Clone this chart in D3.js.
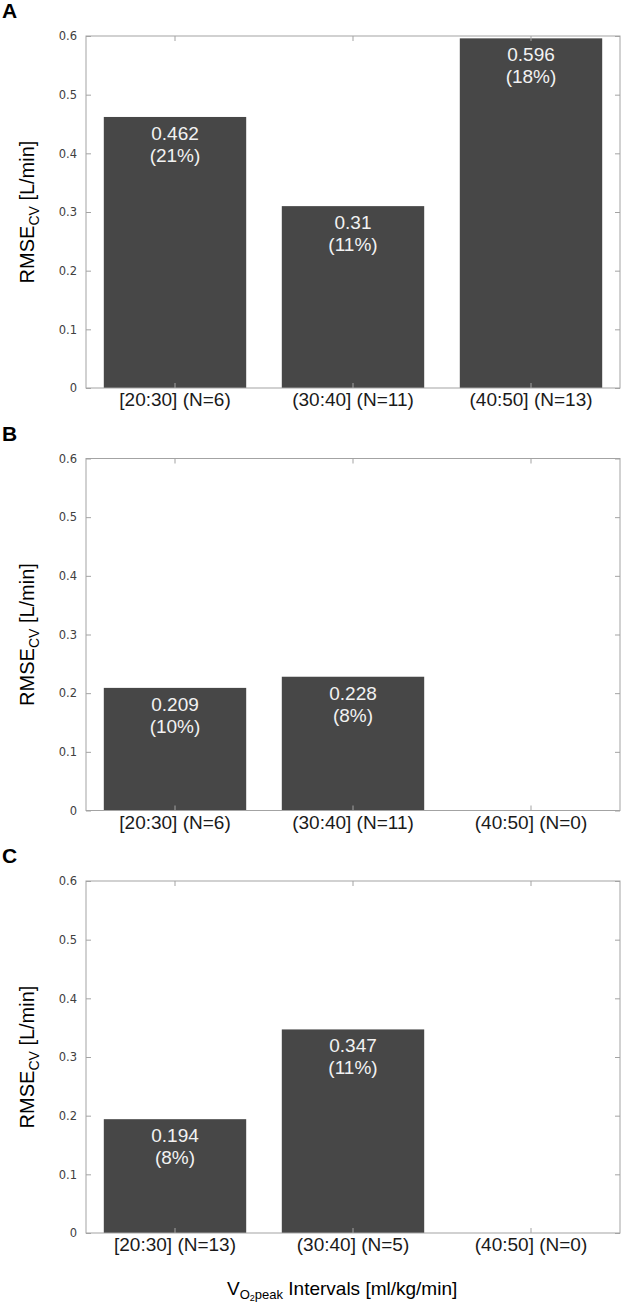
<!DOCTYPE html>
<html>
<head>
<meta charset="utf-8">
<script src="https://cdn.jsdelivr.net/npm/d3@7"></script>
<style>
  html, body { margin: 0; padding: 0; background: #ffffff; }
  svg { display: block; }
</style>
</head>
<body>
<svg id="chart" width="622" height="1305"></svg>
<script>
// ---- data ----
const categoriesA = ["[20:30] (N=6)", "(30:40] (N=11)", "(40:50] (N=13)"];
const valuesA = [0.462, 0.31, 0.596];
const percentA = ["21%", "11%", "18%"];

const categoriesB = ["[20:30] (N=6)", "(30:40] (N=11)", "(40:50] (N=0)"];
const valuesB = [0.209, 0.228, null];
const percentB = ["10%", "8%", null];

const categoriesC = ["[20:30] (N=13)", "(30:40] (N=5)", "(40:50] (N=0)"];
const valuesC = [0.194, 0.347, null];
const percentC = ["8%", "11%", null];

const panelLetters = ["A", "B", "C"];
const yTicks = [0, 0.1, 0.2, 0.3, 0.4, 0.5, 0.6];
const yTickLabels = ["0", "0.1", "0.2", "0.3", "0.4", "0.5", "0.6"];

const panels = [
  { letter: panelLetters[0], cats: categoriesA, vals: valuesA, pct: percentA },
  { letter: panelLetters[1], cats: categoriesB, vals: valuesB, pct: percentB },
  { letter: panelLetters[2], cats: categoriesC, vals: valuesC, pct: percentC }
];

// ---- layout ----
const svg = d3.select("#chart");
const left = 86, right = 620;
const panelTops = [36, 458.5, 881];
const plotH = 352;
const axisColor = "#a3a3a3";
const barColor = "#474747";
const tickLen = 5;

const x = d3.scaleBand().range([left, right]).paddingInner(0.2).paddingOuter(0.1);

panels.forEach((p, i) => {
  const top = panelTops[i];
  const bottom = top + plotH;
  const y = d3.scaleLinear().domain([0, 0.6]).range([bottom, top]);
  x.domain(p.cats);
  const g = svg.append("g");

  // panel letter
  g.append("text")
    .attr("x", 2).attr("y", top - 18)
    .attr("font-family", "Liberation Sans, Arial, sans-serif")
    .attr("font-weight", "bold").attr("font-size", 21)
    .attr("fill", "#000").text(p.letter);

  // bars
  const data = p.cats.map((c, j) => ({ c, v: p.vals[j], pct: p.pct[j] }))
    .filter(d => d.v !== null);
  g.selectAll("rect.bar").data(data).enter().append("rect")
    .attr("class", "bar")
    .attr("x", d => x(d.c)).attr("width", x.bandwidth())
    .attr("y", d => y(d.v)).attr("height", d => y(0) - y(d.v))
    .attr("fill", barColor);

  // bar labels
  const lbl = g.selectAll("text.val").data(data).enter().append("text")
    .attr("class", "val")
    .attr("text-anchor", "middle")
    .attr("font-family", "Liberation Sans, Arial, sans-serif")
    .attr("font-size", 19).attr("fill", "#f2f2f2");
  lbl.append("tspan")
    .attr("x", d => x(d.c) + x.bandwidth() / 2)
    .attr("y", d => y(d.v) + 23)
    .text(d => String(d.v));
  lbl.append("tspan")
    .attr("x", d => x(d.c) + x.bandwidth() / 2)
    .attr("y", d => y(d.v) + 45)
    .text(d => "(" + d.pct + ")");

  // box axes
  const axL = d3.axisLeft(y).tickValues(yTicks)
    .tickFormat((d, k) => yTickLabels[k])
    .tickSize(-tickLen).tickPadding(4 + tickLen);
  const gl = g.append("g").attr("transform", `translate(${left},0)`).call(axL);
  gl.select(".domain").remove();
  gl.selectAll(".tick line").attr("stroke", axisColor);
  gl.selectAll(".tick text")
    .attr("font-family", "DejaVu Sans, Verdana, sans-serif")
    .attr("font-size", 11.5).attr("fill", "#404040");

  const axR = d3.axisRight(y).tickValues(yTicks).tickFormat("").tickSize(-tickLen);
  const gr = g.append("g").attr("transform", `translate(${right},0)`).call(axR);
  gr.select(".domain").remove();
  gr.selectAll(".tick line").attr("stroke", axisColor);

  const axB = d3.axisBottom(x).tickSize(-tickLen).tickPadding(0);
  const gb = g.append("g").attr("transform", `translate(0,${bottom})`).call(axB);
  gb.select(".domain").remove();
  gb.selectAll(".tick line").attr("stroke", axisColor);
  gb.selectAll(".tick text")
    .attr("y", 18).attr("dy", 0)
    .attr("font-family", "Liberation Sans, Arial, sans-serif")
    .attr("font-size", 19).attr("fill", "#1a1a1a");

  const axT = d3.axisTop(x).tickSize(-tickLen).tickFormat("");
  const gt = g.append("g").attr("transform", `translate(0,${top})`).call(axT);
  gt.select(".domain").remove();
  gt.selectAll(".tick line").attr("stroke", axisColor);

  // frame
  g.append("rect")
    .attr("x", left).attr("y", top)
    .attr("width", right - left).attr("height", plotH)
    .attr("fill", "none").attr("stroke", axisColor).attr("stroke-width", 1);

  // y title
  const yt = g.append("text")
    .attr("transform", `translate(34,${(top + bottom) / 2}) rotate(-90)`)
    .attr("text-anchor", "middle")
    .attr("font-family", "Liberation Sans, Arial, sans-serif")
    .attr("font-size", 20).attr("fill", "#000");
  yt.append("tspan").text("RMSE");
  yt.append("tspan").attr("font-size", 14).attr("dy", 5).text("CV");
  yt.append("tspan").attr("dy", -5).text(" [L/min]");
});

// x-axis title
const xt = svg.append("text")
  .attr("x", 227).attr("y", 1295)
  .attr("font-family", "Liberation Sans, Arial, sans-serif")
  .attr("font-size", 19).attr("fill", "#000");
xt.append("tspan").text("V");
xt.append("tspan").attr("font-size", 13).attr("dy", 4).text("O");
xt.append("tspan").attr("font-size", 9).attr("dy", 2).text("2");
xt.append("tspan").attr("font-size", 13).attr("dy", -2).text("peak");
xt.append("tspan").attr("dy", -4).text(" Intervals [ml/kg/min]");
</script>
</body>
</html>
